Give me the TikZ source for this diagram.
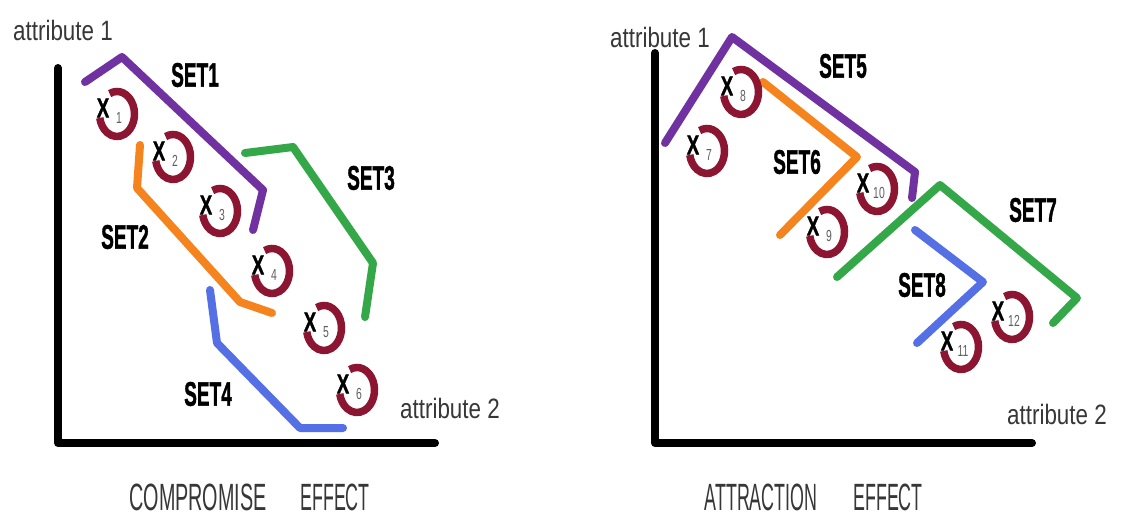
\documentclass[tikz,border=0pt]{standalone}
\usepackage{fontspec}
\usepackage{graphicx}
\setmainfont{Liberation Sans}
\newfontface\heavyfont[FakeBold=1.6]{Liberation Sans Bold}
\newfontface\thinfont{Liberation Sans}
\definecolor{setpurple}{RGB}{112,50,160}
\definecolor{setorange}{RGB}{246,132,30}
\definecolor{setgreen}{RGB}{52,168,72}
\definecolor{setblue}{RGB}{84,112,228}
\definecolor{ringred}{RGB}{140,22,50}
\definecolor{txtgray}{RGB}{55,55,55}
\definecolor{subgray}{RGB}{95,95,95}
\newcommand\sqz[2]{\scalebox{#1}[1]{#2}}
\tikzset{
  axisline/.style={line width=8pt, line cap=round, line join=round, black},
  setline/.style={line width=8pt, line cap=round, line join=round},
  ringline/.style={line width=7.5pt, draw=ringred},
  setlab/.style={inner sep=0pt, font=\heavyfont\fontsize{34}{34}\selectfont},
  xlab/.style={inner sep=0pt, font=\heavyfont\fontsize{27}{27}\selectfont},
  sublab/.style={inner sep=0pt, text=subgray, font=\thinfont\fontsize{16}{16}\selectfont},
  attrlab/.style={inner sep=0pt, text=txtgray, font=\thinfont\fontsize{28}{28}\selectfont},
  efflab/.style={inner sep=0pt, text=txtgray, font=\thinfont\fontsize{38}{38}\selectfont},
}
\newcommand\alt[4]{% name, x, y, index
  \draw[ringline] (#2,#3) ++(-115:17.5 and 22.5) arc[start angle=-115, end angle=170, x radius=17.5, y radius=22.5];
  \node[xlab] (x#1) at (#2-14,#3-6) {\sqz{0.68}{X}};
  \node[sublab] (s#1) at (#2+2,#3+4) {\sqz{0.65}{#4}};
}
\begin{document}
\begin{tikzpicture}[x=1pt,y=-1pt]
\useasboundingbox[fill=white] (0,0) rectangle (1124,519);

% ---------- left panel ----------
\draw[axisline] (58,68) -- (58,443) -- (435,443);
\draw[setline, setpurple] (85,82) -- (122,57) -- (263,190) -- (253,230);
\draw[setline, setorange] (140,145) -- (137,188) -- (240,302) -- (272,313);
\draw[setline, setgreen] (245,153) -- (293,147) -- (373,263) -- (365,317);
\draw[setline, setblue] (210,290) -- (217,343) -- (300,428) -- (343,428);

\alt{1}{117}{114}{1}
\alt{2}{173}{157}{2}
\alt{3}{220}{211}{3}
\alt{4}{272}{271}{4}
\alt{5}{324}{328}{5}
\alt{6}{357}{390}{6}

\node[setlab] (set1) at (195,75) {\sqz{0.56}{SET1}};
\node[setlab] (set2) at (125,237) {\sqz{0.56}{SET2}};
\node[setlab] (set3) at (371,178) {\sqz{0.56}{SET3}};
\node[setlab] (set4) at (208,394) {\sqz{0.56}{SET4}};

\node[attrlab] (a1l) at (63,30) {\sqz{0.8}{attribute 1}};
\node[attrlab] (a2l) at (450,408) {\sqz{0.8}{attribute 2}};
\node[efflab] (compl) at (198,497) {\sqz{0.52}{COMPROMISE}};
\node[efflab] (effl) at (335,497) {\sqz{0.47}{EFFECT}};

% ---------- right panel ----------
\draw[axisline] (655,53) -- (655,443) -- (1032,443);
\draw[setline, setpurple] (665,143) -- (732,37) -- (915,172) -- (912,198);
\draw[setline, setorange] (763,82) -- (857,157) -- (780,235);
\draw[setline, setgreen] (837,277) -- (940,185) -- (1077,298) -- (1053,323);
\draw[setline, setblue] (915,230) -- (983,282) -- (917,343);

\alt{7}{707}{151}{7}
\alt{8}{741}{92}{8}
\alt{9}{827}{232}{9}
\alt{10}{877}{189}{10}
\alt{11}{961}{347}{11}
\alt{12}{1012}{317}{12}

\node[setlab] (set5) at (843,66) {\sqz{0.56}{SET5}};
\node[setlab] (set6) at (797,162) {\sqz{0.56}{SET6}};
\node[setlab] (set7) at (1033,210) {\sqz{0.56}{SET7}};
\node[setlab] (set8) at (922,285) {\sqz{0.56}{SET8}};

\node[attrlab] (a1r) at (660,37) {\sqz{0.8}{attribute 1}};
\node[attrlab] (a2r) at (1057,414) {\sqz{0.8}{attribute 2}};
\node[efflab] (attr) at (761,497) {\sqz{0.47}{ATTRACTION}};
\node[efflab] (effr) at (888,497) {\sqz{0.47}{EFFECT}};
\end{tikzpicture}
\end{document}
